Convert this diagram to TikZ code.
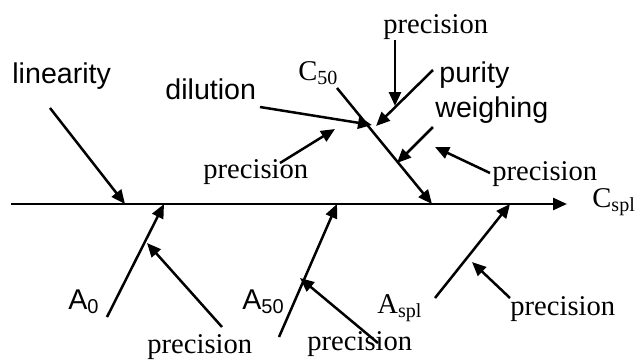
\documentclass[tikz,border=0pt]{standalone}
\usepackage{fontspec}
\setmainfont{Liberation Serif}
\setsansfont{Liberation Sans}
\usetikzlibrary{arrows.meta}
\begin{document}
\begin{tikzpicture}[x=0.5pt,y=-0.5pt,
    serif/.style={inner sep=0pt,anchor=base west,font=\fontsize{14.3}{17}\selectfont\rmfamily},
    sans/.style={inner sep=0pt,anchor=base west,font=\fontsize{14.3}{17}\selectfont\sffamily},
    arr/.style={line width=1.25pt,-{Triangle[length=7pt,width=6pt]}}
]
\useasboundingbox (0,0) rectangle (638,360);

% labels
\node[sans]  (lin)  at (12,83)   {linearity};
\node[sans]  (dil)  at (165,99)  {dilution};
\node[serif] (C50)  at (298,80)  {C\textsubscript{50}};
\node[serif] (pT)   at (383,33)  {precision};
\node[sans]  (pur)  at (439,82)  {purity};
\node[sans]  (wei)  at (435,117) {weighing};
\node[serif] (pR)   at (492,180) {precision};
\node[serif] (pL)   at (203,178) {precision};
\node[serif] (Cspl) at (592,207) {C\textsubscript{spl}};
\node[sans]  (A0)   at (68,309)  {A\textsubscript{0}};
\node[sans]  (A50)  at (242,309) {A\textsubscript{50}};
\node[serif] (Aspl) at (377,313) {A\textsubscript{spl}};
\node[serif] (pB1)  at (147,353) {precision};
\node[serif] (pB2)  at (307,350) {precision};
\node[serif] (pB3)  at (510,315) {precision};

% arrow ends
\coordinate (s0)  at (11,204);   \coordinate (t0)  at (567,204);
\coordinate (s1)  at (50,108);   \coordinate (t1)  at (125,204);
\coordinate (s2)  at (337,88);   \coordinate (t2)  at (432,204);
\coordinate (s3)  at (260,107);  \coordinate (t3)  at (372,125);
\coordinate (s4)  at (395,40);   \coordinate (t4)  at (395,106);
\coordinate (s5)  at (433,70);   \coordinate (t5)  at (376,126);
\coordinate (s6)  at (433,127);  \coordinate (t6)  at (397,163);
\coordinate (s7)  at (490,173);  \coordinate (t7)  at (435,147);
\coordinate (s8)  at (280,163);  \coordinate (t8)  at (335,129);
\coordinate (s9)  at (107,317);  \coordinate (t9)  at (164,204);
\coordinate (s10) at (222,327);  \coordinate (t10) at (147,243);
\coordinate (s11) at (279,337);  \coordinate (t11) at (337,204);
\coordinate (s12) at (378,343);  \coordinate (t12) at (300,278);
\coordinate (s13) at (435,298);  \coordinate (t13) at (510,204);
\coordinate (s14) at (510,298);  \coordinate (t14) at (472,262);

\foreach \i in {0,...,14}
  \draw[arr] (s\i) -- (t\i);
\end{tikzpicture}
\end{document}
